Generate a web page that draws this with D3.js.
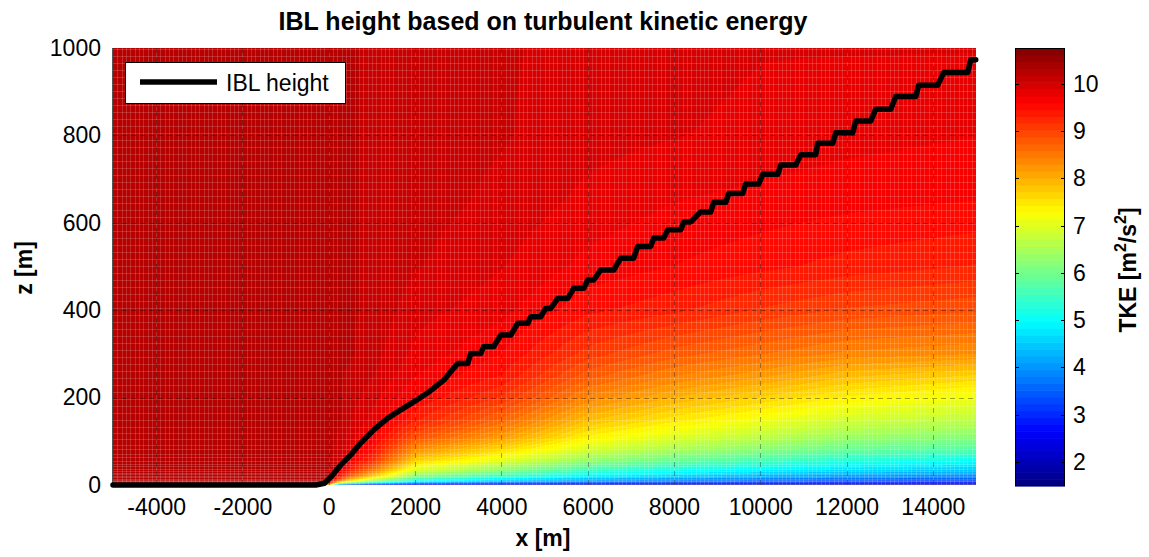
<!DOCTYPE html>
<html>
<head>
<meta charset="utf-8">
<script src="https://cdn.jsdelivr.net/npm/d3@7"></script>
<style>
  body { margin: 0; background: #fff; }
  svg { display: block; font-family: "Liberation Sans", Arial, Helvetica, sans-serif; }
</style>
</head>
<body>
<svg id="chart" width="1149" height="557"></svg>
<script>
// Streamwise stations (m) and heights (m) at which the TKE field is tabulated
const xStations = [-5000, -200, 0, 250, 500, 1000, 2000, 4000, 6000, 8000, 10000, 12000, 15000];
const zLevels = [0, 5, 10, 20, 35, 55, 80, 110, 150, 200, 250, 300, 400, 500, 650, 800, 1000];

// TKE profiles (m^2/s^2), one per station, listed bottom to top
const tkeProfiles = [
  [10.3, 10.3, 10.3, 10.3, 10.3, 10.3, 10.3, 10.25, 10.25, 10.25, 10.25, 10.25, 10.25, 10.25, 10.25, 10.25, 10.25],
  [10.3, 10.3, 10.3, 10.3, 10.3, 10.3, 10.3, 10.25, 10.25, 10.25, 10.25, 10.25, 10.25, 10.25, 10.25, 10.25, 10.25],
  [8.0, 9.7, 10.1, 10.25, 10.25, 10.25, 10.25, 10.25, 10.25, 10.25, 10.25, 10.25, 10.25, 10.25, 10.25, 10.25, 10.25],
  [3.5, 7.2, 8.6, 9.5, 9.85, 10.0, 10.1, 10.15, 10.2, 10.2, 10.2, 10.2, 10.2, 10.2, 10.2, 10.2, 10.2],
  [2.8, 6.2, 7.6, 8.8, 9.35, 9.65, 9.85, 9.95, 10.05, 10.1, 10.15, 10.2, 10.2, 10.2, 10.2, 10.2, 10.2],
  [2.4, 5.2, 6.5, 7.8, 8.6, 9.2, 9.5, 9.7, 9.85, 9.95, 10.05, 10.1, 10.15, 10.15, 10.15, 10.15, 10.15],
  [2.1, 4.2, 5.2, 6.2, 7.0, 7.7, 8.3, 8.9, 9.35, 9.6, 9.75, 9.85, 9.95, 10.05, 10.1, 10.1, 10.1],
  [1.9, 3.6, 4.5, 5.5, 6.3, 7.0, 7.6, 8.2, 8.7, 9.15, 9.45, 9.6, 9.8, 9.9, 10.0, 10.05, 10.05],
  [1.8, 3.3, 4.1, 4.9, 5.6, 6.3, 6.9, 7.4, 7.9, 8.4, 8.8, 9.1, 9.5, 9.7, 9.85, 9.95, 10.0],
  [1.7, 3.1, 3.8, 4.6, 5.2, 5.9, 6.5, 7.0, 7.5, 8.0, 8.45, 8.8, 9.35, 9.6, 9.75, 9.9, 9.95],
  [1.65, 2.9, 3.6, 4.3, 4.9, 5.6, 6.2, 6.7, 7.2, 7.7, 8.2, 8.6, 9.15, 9.5, 9.7, 9.85, 9.9],
  [1.6, 2.8, 3.4, 4.1, 4.7, 5.3, 5.9, 6.4, 6.9, 7.4, 7.9, 8.4, 9.0, 9.4, 9.65, 9.8, 9.9],
  [1.55, 2.6, 3.2, 3.9, 4.5, 5.05, 5.7, 6.2, 6.7, 7.15, 7.7, 8.3, 8.9, 9.3, 9.6, 9.75, 9.9]
];

// Internal boundary layer height: x (m) and z (m) of the diagnosed IBL top
const iblX = [-5000, -300, -100, 46, 278, 510, 742, 1043, 1367, 1669, 1970, 2294, 2665, 2827,
  2990, 3221, 3291, 3523, 3592, 3824, 3986, 4218, 4380, 4612, 4681, 4913, 5029, 5145,
  5307, 5539, 5678, 5910, 6002, 6141, 6304, 6605, 6767, 7068, 7161, 7462, 7532, 7764,
  7856, 8158, 8227, 8390, 8621, 8853, 8922, 9201, 9270, 9594, 9664, 9965, 10058, 10405,
  10475, 10823, 10939, 11286, 11332, 11680, 11750, 12144, 12213, 12561, 12677, 13025,
  13140, 13604, 13673, 14113, 14253, 14809, 14878, 14994];
const iblZ = [0, 0, 4, 18, 46, 69, 96, 126, 153, 172, 190, 211, 240, 259,
  278, 278, 301, 301, 317, 317, 343, 343, 370, 370, 385, 385, 404, 404,
  427, 427, 450, 450, 469, 469, 492, 492, 519, 519, 546, 546, 565, 565,
  584, 584, 602, 602, 625, 625, 647, 647, 667, 667, 689, 689, 711, 711,
  732, 732, 756, 756, 782, 782, 806, 806, 833, 833, 860, 860,
  889, 889, 915, 915, 944, 944, 973, 973];

const xTicks = [-4000, -2000, 0, 2000, 4000, 6000, 8000, 10000, 12000, 14000];
const zTicks = [0, 200, 400, 600, 800, 1000];
const cbTicks = [2, 3, 4, 5, 6, 7, 8, 9, 10];
const xDomain = [-5000, 15000];
const zDomain = [0, 1000];
const tkeRange = [1.49, 10.76];

const svg = d3.select("#chart");
const plot = { left: 113, right: 976, top: 48, bottom: 485 };
const cb = { left: 1015, right: 1065, top: 48, bottom: 486 };
const fontSize = 23;

const x = d3.scaleLinear().domain(xDomain).range([plot.left, plot.right]);
const y = d3.scaleLinear().domain(zDomain).range([plot.bottom, plot.top]);

// 64-level jet colormap
function jet(t) {
  const c = v => Math.max(0, Math.min(1, v));
  return [c(1.5 - Math.abs(4 * t - 3)), c(1.5 - Math.abs(4 * t - 2)), c(1.5 - Math.abs(4 * t - 1))];
}
const nLevels = 64;
const jetColors = d3.range(nLevels).map(i => {
  const [r, g, b] = jet((i + 0.5) / nLevels);
  return d3.rgb(r * 255, g * 255, b * 255).formatHex();
});
const color = d3.scaleQuantize().domain(tkeRange).range(jetColors);

// Bilinear lookup in the tabulated field
function tkeAt(xv, zv) {
  const i = Math.max(0, Math.min(xStations.length - 2, d3.bisectRight(xStations, xv) - 1));
  const j = Math.max(0, Math.min(zLevels.length - 2, d3.bisectRight(zLevels, zv) - 1));
  const tx = Math.max(0, Math.min(1, (xv - xStations[i]) / (xStations[i + 1] - xStations[i])));
  const tz = Math.max(0, Math.min(1, (zv - zLevels[j]) / (zLevels[j + 1] - zLevels[j])));
  const a = tkeProfiles[i][j], b = tkeProfiles[i + 1][j];
  const c = tkeProfiles[i][j + 1], d = tkeProfiles[i + 1][j + 1];
  return (a * (1 - tx) + b * tx) * (1 - tz) + (c * (1 - tx) + d * tx) * tz;
}

// Field image
const cw = plot.right - plot.left, ch = plot.bottom - plot.top;
const canvas = document.createElement("canvas");
canvas.width = cw; canvas.height = ch;
const ctx = canvas.getContext("2d");
const img = ctx.createImageData(cw, ch);
for (let c = 0; c < cw; c++) {
  const xv = x.invert(plot.left + c + 0.5);
  for (let r = 0; r < ch; r++) {
    const zv = y.invert(plot.top + r + 0.5);
    const col = d3.rgb(color(tkeAt(xv, zv)));
    const k = (r * cw + c) * 4;
    img.data[k] = col.r; img.data[k + 1] = col.g; img.data[k + 2] = col.b; img.data[k + 3] = 255;
  }
}
ctx.putImageData(img, 0, 0);
svg.append("image")
  .attr("x", plot.left).attr("y", plot.top)
  .attr("width", cw).attr("height", ch)
  .attr("preserveAspectRatio", "none")
  .attr("href", canvas.toDataURL());

// Cell edges of the computational mesh (uniform in x, stretched towards the ground in z)
const meshX = d3.range(xDomain[0] + 100, xDomain[1], 100);
const meshZ = [];
for (let z = 1, dz = 1; z < zDomain[1]; dz = Math.min(dz * 1.12, 16), z += dz) meshZ.push(z);
const mesh = svg.append("g").attr("stroke", "#fff").attr("stroke-opacity", 0.16).attr("stroke-width", 1);
mesh.selectAll("line.mx").data(meshX).join("line").attr("class", "mx")
  .attr("x1", d => Math.round(x(d)) + 0.5).attr("x2", d => Math.round(x(d)) + 0.5)
  .attr("y1", plot.top).attr("y2", plot.bottom);
mesh.selectAll("line.mz").data(meshZ).join("line").attr("class", "mz")
  .attr("y1", d => Math.round(y(d)) + 0.5).attr("y2", d => Math.round(y(d)) + 0.5)
  .attr("x1", plot.left).attr("x2", plot.right);

// Dashed grid
const grid = svg.append("g").attr("stroke", "#000").attr("stroke-opacity", 0.35)
  .attr("stroke-width", 1).attr("stroke-dasharray", "5,4");
grid.selectAll("line.gx").data(xTicks).join("line").attr("class", "gx")
  .attr("x1", d => Math.round(x(d)) + 0.5).attr("x2", d => Math.round(x(d)) + 0.5)
  .attr("y1", plot.top).attr("y2", plot.bottom);
grid.selectAll("line.gz").data(zTicks.filter(d => d > zDomain[0] && d < zDomain[1])).join("line").attr("class", "gz")
  .attr("y1", d => Math.round(y(d)) + 0.5).attr("y2", d => Math.round(y(d)) + 0.5)
  .attr("x1", plot.left).attr("x2", plot.right);

// Left frame edge
svg.append("line").attr("x1", plot.left - 0.5).attr("x2", plot.left - 0.5)
  .attr("y1", plot.top).attr("y2", plot.bottom).attr("stroke", "#555").attr("stroke-width", 1);

// IBL height line
const iblPts = iblX.map((d, i) => [d, iblZ[i]]);
svg.append("path").datum(iblPts)
  .attr("fill", "none").attr("stroke", "#000").attr("stroke-width", 5.5)
  .attr("stroke-linejoin", "round").attr("stroke-linecap", "round")
  .attr("d", d3.line().x(d => x(d[0])).y(d => y(d[1])));

// Axes
const xAxis = svg.append("g").attr("transform", `translate(0,${plot.bottom})`)
  .call(d3.axisBottom(x).tickValues(xTicks).tickSize(0).tickPadding(14).tickFormat(d => String(d)));
const yAxis = svg.append("g").attr("transform", `translate(${plot.left},0)`)
  .call(d3.axisLeft(y).tickValues(zTicks).tickSize(0).tickPadding(12).tickFormat(d => String(d)));
[xAxis, yAxis].forEach(g => {
  g.select(".domain").remove();
  g.selectAll("text").attr("font-size", fontSize).attr("fill", "#000")
    .attr("font-family", "Liberation Sans, Arial, sans-serif");
});

// Colorbar
const cbScale = d3.scaleLinear().domain(tkeRange).range([cb.bottom, cb.top]);
const step = (tkeRange[1] - tkeRange[0]) / nLevels;
svg.append("g").selectAll("rect").data(jetColors).join("rect")
  .attr("x", cb.left).attr("width", cb.right - cb.left)
  .attr("y", (d, i) => cbScale(tkeRange[0] + (i + 1) * step))
  .attr("height", (d, i) => cbScale(tkeRange[0] + i * step) - cbScale(tkeRange[0] + (i + 1) * step) + 0.6)
  .attr("fill", d => d);
svg.append("rect").attr("x", cb.left + 0.5).attr("y", cb.top + 0.5)
  .attr("width", cb.right - cb.left - 1).attr("height", cb.bottom - cb.top - 1)
  .attr("fill", "none").attr("stroke", "#000").attr("stroke-width", 1);
const cbAxis = svg.append("g");
cbAxis.selectAll("line.tl").data(cbTicks).join("line").attr("class", "tl")
  .attr("x1", cb.left).attr("x2", cb.left + 4)
  .attr("y1", d => Math.round(cbScale(d)) + 0.5).attr("y2", d => Math.round(cbScale(d)) + 0.5)
  .attr("stroke", "#000");
cbAxis.selectAll("line.tr").data(cbTicks).join("line").attr("class", "tr")
  .attr("x1", cb.right - 4).attr("x2", cb.right)
  .attr("y1", d => Math.round(cbScale(d)) + 0.5).attr("y2", d => Math.round(cbScale(d)) + 0.5)
  .attr("stroke", "#000");
cbAxis.selectAll("text").data(cbTicks).join("text")
  .attr("x", cb.right + 8).attr("y", d => cbScale(d)).attr("dy", "0.35em")
  .attr("font-size", fontSize).text(d => d);

// Titles
svg.append("text").attr("x", 543).attr("y", 30).attr("text-anchor", "middle")
  .attr("font-size", 25).attr("font-weight", "bold").text("IBL height based on turbulent kinetic energy");
svg.append("text").attr("x", 543).attr("y", 546).attr("text-anchor", "middle")
  .attr("font-size", fontSize).attr("font-weight", "bold").text("x [m]");
svg.append("text").attr("transform", "translate(32,268) rotate(-90)").attr("text-anchor", "middle")
  .attr("font-size", fontSize).attr("font-weight", "bold").text("z [m]");
const cbLabel = svg.append("text").attr("transform", "translate(1136,270) rotate(-90)")
  .attr("text-anchor", "middle").attr("font-size", fontSize).attr("font-weight", "bold");
cbLabel.append("tspan").text("TKE [m");
cbLabel.append("tspan").attr("dy", -10).attr("font-size", 16).text("2");
cbLabel.append("tspan").attr("dy", 10).text("/s");
cbLabel.append("tspan").attr("dy", -10).attr("font-size", 16).text("2");
cbLabel.append("tspan").attr("dy", 10).text("]");

// Legend
const lg = svg.append("g");
lg.append("rect").attr("x", 125.5).attr("y", 62.5).attr("width", 220).attr("height", 41)
  .attr("fill", "#fff").attr("stroke", "#000").attr("stroke-width", 1);
lg.append("line").attr("x1", 140).attr("x2", 217).attr("y1", 82).attr("y2", 82)
  .attr("stroke", "#000").attr("stroke-width", 5.5);
lg.append("text").attr("x", 226).attr("y", 91).attr("font-size", fontSize).text("IBL height");
</script>
</body>
</html>
